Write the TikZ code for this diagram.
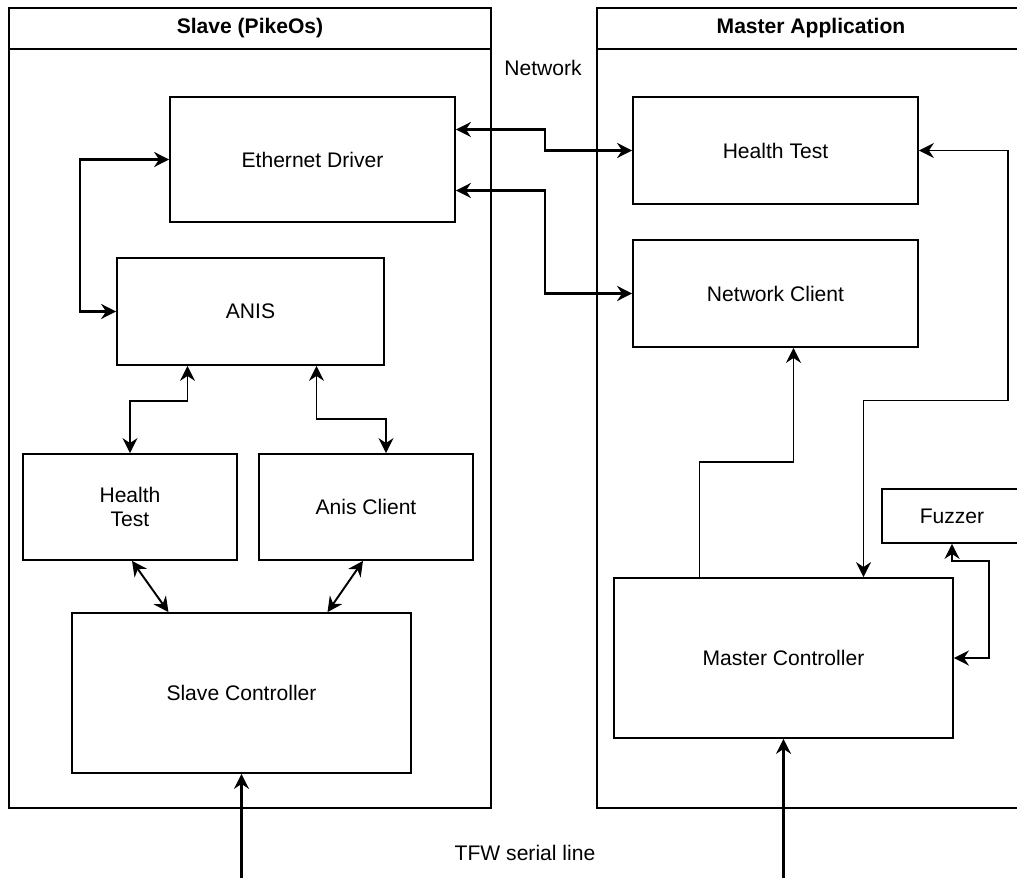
\documentclass[tikz,border=0pt]{standalone}
\usepackage{fontspec}
\setmainfont{Liberation Sans}
\usepackage{tikz}
\usetikzlibrary{arrows.meta, positioning, calc}

\begin{document}
\begin{tikzpicture}[
    x=0.02cm, y=-0.02cm,
    box/.style={rectangle, draw, line width=1pt, inner sep=0pt, align=center, font=\fontsize{12}{14}\selectfont},
    container/.style={rectangle, draw, line width=1.1pt, inner sep=0pt},
    title/.style={font=\fontsize{12}{14}\selectfont\bfseries},
    label/.style={font=\fontsize{12}{14}\selectfont},
    arrow/.style={-{Stealth[length=3mm, width=3mm]}, line width=1.3pt},
    dblarrow/.style={{Stealth[length=3mm, width=3mm]}-{Stealth[length=3mm, width=3mm]}, line width=1.3pt},
    thinline/.style={line width=1.1pt}]
    \useasboundingbox (0,0) rectangle (1017,878);
    \clip (0,0) rectangle (1017,878);
    % Containers
    \node[container, minimum width=9.64cm, minimum height=16cm] (slave) at (250,408) {};
    \node[container, minimum width=8.56cm, minimum height=16cm] (master) at (811,408) {};
    \draw[line width=1.1pt] ($(slave.north west)+(0,42)$) -- ($(slave.north east)+(0,42)$);
    \draw[line width=1.1pt] ($(master.north west)+(0,42)$) -- ($(master.north east)+(0,42)$);
    \node[title] (slavetitle) at ($(slave.north)+(0,21)$) {Slave (PikeOs)};
    \node[title] (mastertitle) at ($(master.north)+(0,21)$) {Master Application};

    % Nodes
    \node[box, minimum width=5.7cm, minimum height=2.5cm] (eth) at (312.5,159.5) {Ethernet Driver};
    \node[box, minimum width=5.34cm, minimum height=2.14cm] (anis) at (250.5,311.5) {ANIS};
    \node[box, minimum width=4.28cm, minimum height=2.12cm] (shtest) at (130,507) {Health\\Test};
    \node[box, minimum width=4.28cm, minimum height=2.12cm] (aclient) at (366,507) {Anis Client};
    \node[box, minimum width=6.78cm, minimum height=3.2cm] (sctrl) at (241.5,693) {Slave Controller};
    \node[box, minimum width=5.7cm, minimum height=2.14cm] (mhtest) at (775.5,150.5) {Health Test};
    \node[box, minimum width=5.7cm, minimum height=2.14cm] (netcl) at (775.5,293.5) {Network Client};
    \node[box, minimum width=2.8cm, minimum height=1.08cm] (fuzzer) at (952,516) {Fuzzer};
    \node[box, minimum width=6.78cm, minimum height=3.2cm] (mctrl) at (783.5,658) {Master Controller};

    \node[label] (network) at (543,68) {Network};
    \node[label] (serial) at (525,853) {TFW serial line};
    \coordinate (sserial) at (241.5,880);
    \coordinate (mserial) at (783.5,880);

    % Arrows
    \draw[dblarrow] (eth.west) -- ++(-89,0) |- (anis.west);
    \draw[dblarrow, thinline] ($(anis.south)+(-63,0)$) -- ++(0,35) -| (shtest.north);
    \draw[dblarrow, thinline] ($(anis.south)+(66,0)$) -- ++(0,53) -| ($(aclient.north)+(20,0)$);
    \draw[dblarrow, thinline] ($(shtest.south)+(2,0)$) -- ($(sctrl.north)+(-73,0)$);
    \draw[dblarrow, thinline] ($(aclient.south)+(-3,0)$) -- ($(sctrl.north)+(86,0)$);
    \draw[dblarrow] ($(eth.east)+(0,-30)$) -- ++(89,0) |- (mhtest.west);
    \draw[dblarrow] ($(eth.east)+(0,31)$) -- ++(89,0) |- (netcl.west);
    \draw[arrow, thinline] ($(mctrl.north)+(-84,0)$) -- ++(0,-115) -| ($(netcl.south)+(18,0)$);
    \draw[dblarrow, thinline] (mhtest.east) -- ++(89,0) -- ++(0,250) -| ($(mctrl.north)+(80,0)$);
    \draw[dblarrow] (fuzzer.south) -- ++(0,17) -- ++(37,0) |- (mctrl.east);
    \draw[arrow] (sserial) -- (sctrl.south);
    \draw[arrow] (mserial) -- (mctrl.south);
\end{tikzpicture}
\end{document}
